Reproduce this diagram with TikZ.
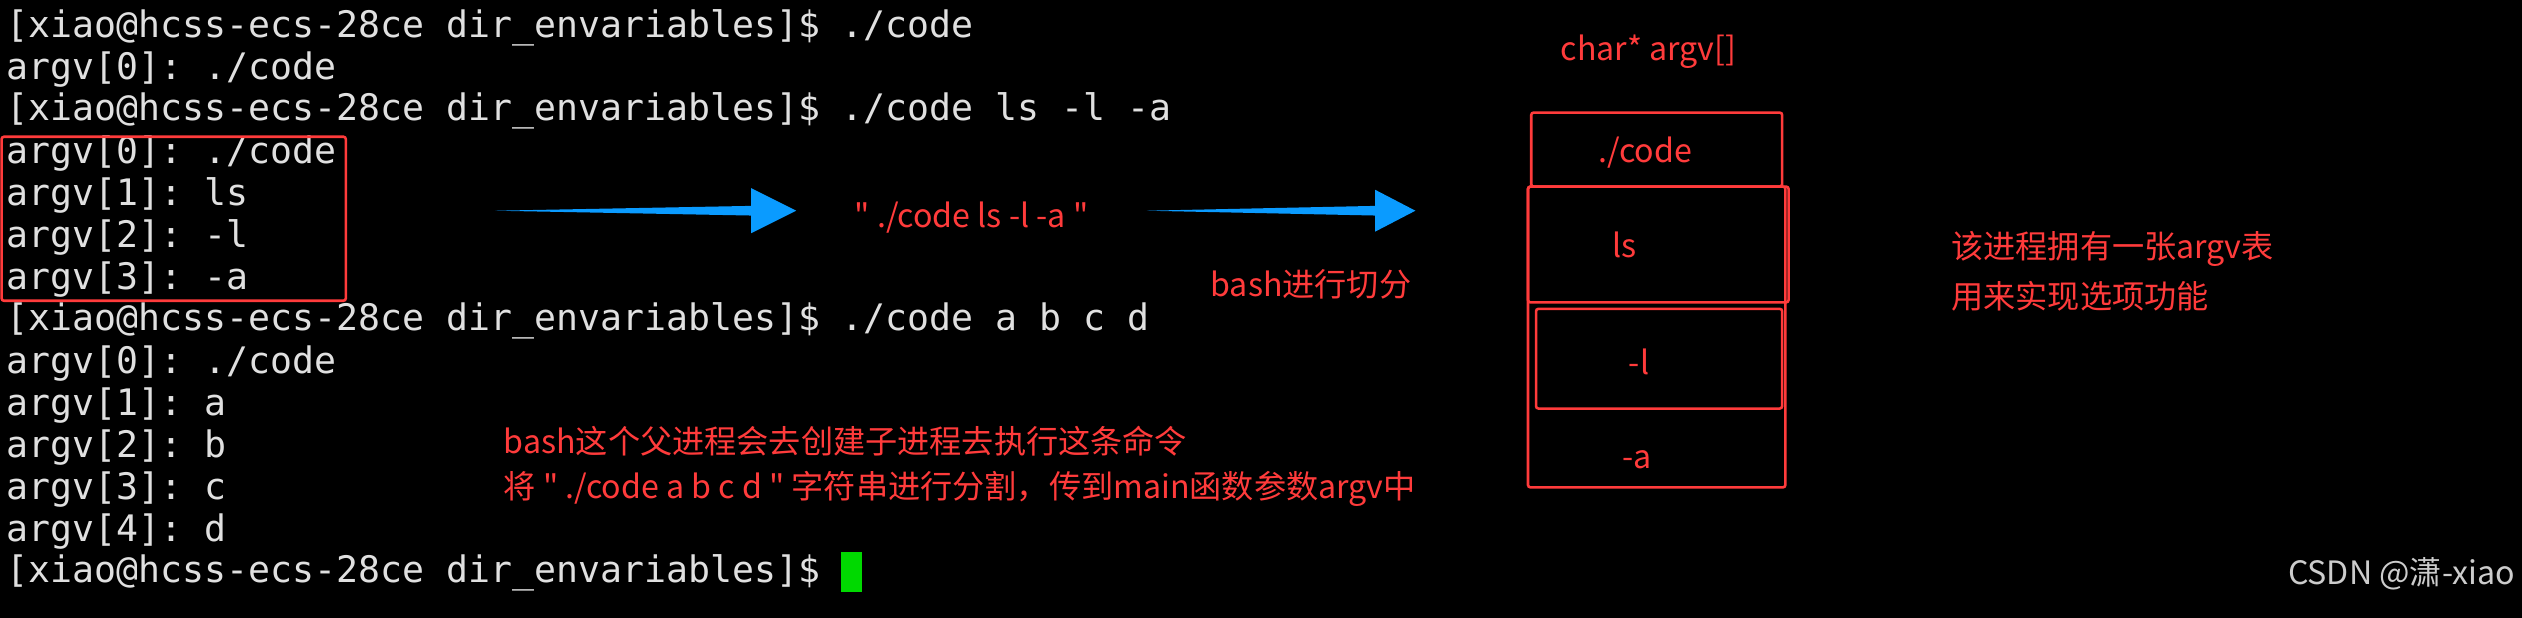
\documentclass[tikz,border=0pt]{standalone}
\usepackage{fontspec}
\setmonofont{DejaVu Sans Mono}
\newfontfamily\cjk{Noto Sans CJK SC}
\begin{document}
\begin{tikzpicture}[x=1pt,y=-1pt,
 term/.style={anchor=west,inner sep=0pt,text=white!88!black,font=\ttfamily\fontsize{22.7}{26}\selectfont},
 lab/.style={inner sep=0pt,text=rd,font=\cjk\fontsize{20}{24}\selectfont},
 rbox/.style={draw=rd,line width=1.6pt,rounded corners=1.5pt}]
\definecolor{rd}{HTML}{FF3B3B}
\definecolor{bl}{HTML}{0A9BFF}
\fill[black] (0,0) rectangle (1568,384);
\useasboundingbox (0,0) rectangle (1568,384);
\foreach \t [count=\i] in {{[xiao@hcss-ecs-28ce dir\_envariables]\$ ./code},{argv[0]: ./code},{[xiao@hcss-ecs-28ce dir\_envariables]\$ ./code ls -l -a},{argv[0]: ./code},{argv[1]: ls},{argv[2]: -l},{argv[3]: -a},{[xiao@hcss-ecs-28ce dir\_envariables]\$ ./code a b c d},{argv[0]: ./code},{argv[1]: a},{argv[2]: b},{argv[3]: c},{argv[4]: d},{[xiao@hcss-ecs-28ce dir\_envariables]\$}}
  \node[term] (l\i) at (4,17+26.1*\i-26.1) {\t};
\fill[green!85!black] (523,343) rectangle (536,368);
\draw[rbox] (1,85) rectangle (215,187);
\node[lab] (s1) at (604,135) {" ./code ls -l -a "};
\node[lab] (s2) at (815,177) {bash进行切分};
\coordinate (a1s) at (308,131); \coordinate (a1e) at (495,131);
\coordinate (a2s) at (713,131); \coordinate (a2e) at (880,131);
\fill[bl] (a1s) -- ([xshift=-28,yshift=-3]a1e) -- ([xshift=-28,yshift=-14]a1e) -- (a1e) -- ([xshift=-28,yshift=14]a1e) -- ([xshift=-28,yshift=3]a1e) -- cycle;
\fill[bl] (a2s) -- ([xshift=-25,yshift=-3]a2e) -- ([xshift=-25,yshift=-13]a2e) -- (a2e) -- ([xshift=-25,yshift=13]a2e) -- ([xshift=-25,yshift=3]a2e) -- cycle;
\node[lab] (title) at (1025,32) {char* argv[]};
\draw[rbox] (950,116) rectangle (1110,303);
\draw[rbox] (952,70) rectangle (1108,116);
\draw[rbox] (950,116) rectangle (1112,188);
\draw[rbox] (955,192) rectangle (1108,254);
\node[lab] (c0) at (1023,95) {./code};
\node[lab] (c1) at (1010,152) {ls};
\node[lab] (c2) at (1019,225) {-l};
\node[lab] (c3) at (1018,286) {-a};
\node[lab,anchor=west] (n1) at (1213,155) {该进程拥有一张argv表};
\node[lab,anchor=west] (n2) at (1213,184) {用来实现选项功能};
\node[lab,anchor=west] (b1) at (313,274) {bash这个父进程会去创建子进程去执行这条命令};
\node[lab,anchor=west] (b2) at (313,304) {将 " ./code a b c d " 字符串进行分割，传到main函数参数argv中};
\node[inner sep=0pt,anchor=east,text=white!80!black,font=\cjk\fontsize{20}{24}\selectfont] (wm) at (1564,357) {CSDN @潇-xiao};
\end{tikzpicture}
\end{document}
